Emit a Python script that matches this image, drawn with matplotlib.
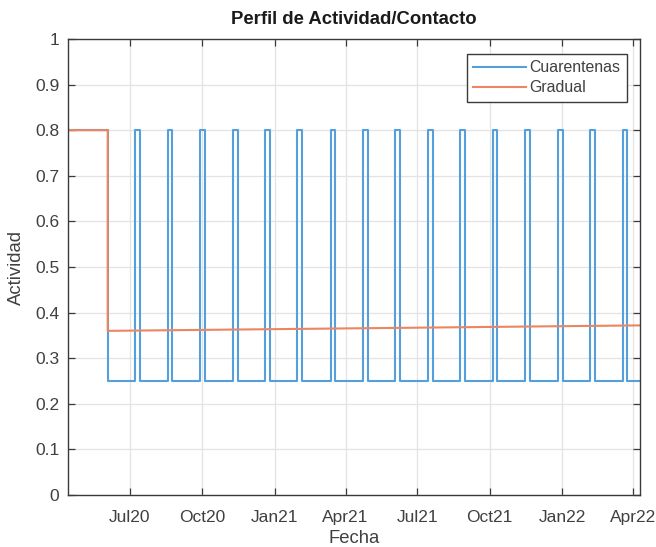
import numpy as np
import matplotlib
matplotlib.use("Agg")
import matplotlib.pyplot as plt
import matplotlib.dates as mdates

plt.rcParams['font.family'] = ['Liberation Sans', 'DejaVu Sans']

# ---- data ----
start_date = "2020-04-13"
end_date = "2022-04-10"
drop_date = "2020-06-03"

pulse_up = ["2020-07-08", "2020-08-18", "2020-09-28", "2020-11-09", "2020-12-20",
            "2021-01-30", "2021-03-13", "2021-04-23", "2021-06-03", "2021-07-15",
            "2021-08-25", "2021-10-05", "2021-11-15", "2021-12-27", "2022-02-06",
            "2022-03-19"]
pulse_down = ["2020-07-14", "2020-08-24", "2020-10-04", "2020-11-15", "2020-12-26",
              "2021-02-05", "2021-03-19", "2021-04-29", "2021-06-09", "2021-07-21",
              "2021-08-31", "2021-10-11", "2021-11-21", "2022-01-02", "2022-02-12",
              "2022-03-25"]

initial_level = 0.8
quarantine_low = 0.25
quarantine_high = 0.8
gradual_start = 0.360
gradual_end = 0.372

# ---- build step series ----
t_blue = [np.datetime64(start_date), np.datetime64(drop_date)]
v_blue = [initial_level, quarantine_low]
for u, d in zip(pulse_up, pulse_down):
    t_blue += [np.datetime64(u), np.datetime64(d)]
    v_blue += [quarantine_high, quarantine_low]
t_blue.append(np.datetime64(end_date))
v_blue.append(quarantine_low)

t_or = [np.datetime64(start_date), np.datetime64(drop_date), np.datetime64(drop_date), np.datetime64(end_date)]
v_or = [initial_level, initial_level, gradual_start, gradual_end]

t_blue = np.array(t_blue, dtype='datetime64[D]')
t_or = np.array(t_or, dtype='datetime64[D]')

# ---- figure ----
fig = plt.figure(figsize=(6.56, 5.47), dpi=100)
ax = fig.add_axes([0.103, 0.095, 0.8726, 0.8337])

blue = '#55a0dc'
orange = '#ea8662'
ax.plot(t_blue, v_blue, drawstyle='steps-post', color=blue, lw=1.5, label='Cuarentenas',
        solid_joinstyle='round')
ax.plot(t_or, v_or, color=orange, lw=1.5, label='Gradual')

ax.set_xlim(np.datetime64(start_date), np.datetime64(end_date))
ax.set_ylim(0, 1)
ax.set_yticks(np.arange(0, 1.01, 0.1))
ax.set_yticklabels(['0', '0.1', '0.2', '0.3', '0.4', '0.5', '0.6', '0.7', '0.8', '0.9', '1'])
ax.xaxis.set_major_locator(mdates.MonthLocator(bymonth=[1, 4, 7, 10]))
ax.xaxis.set_major_formatter(mdates.DateFormatter('%b%y'))

ax.grid(True, color='#e3e3e3', lw=0.9)
ax.set_axisbelow(True)
for s in ax.spines.values():
    s.set_color('#3a3a3a')
    s.set_linewidth(1.0)
ax.tick_params(direction='in', length=5, width=0.9, color='#3a3a3a',
               top=True, right=True, labelsize=12.5, labelcolor='#404040')
ax.tick_params(axis='x', pad=11)
ax.tick_params(axis='y', pad=6)

ax.set_title('Perfil de Actividad/Contacto', fontsize=13.3, fontweight='bold',
             color='#1a1a1a', pad=11)
ax.set_xlabel('Fecha', fontsize=13.3, color='#404040', labelpad=3.5)
ax.set_ylabel('Actividad', fontsize=13.3, color='#404040', labelpad=7)

leg = ax.legend(loc='upper right', bbox_to_anchor=(0.9773, 0.967), fontsize=11.4,
                handlelength=3.3, handletextpad=0.25, borderaxespad=0.0,
                fancybox=False, framealpha=1, borderpad=0.4, labelspacing=0.32)
leg.get_frame().set_edgecolor('#3a3a3a')
leg.get_frame().set_linewidth(1.0)
for t in leg.get_texts():
    t.set_color('#404040')

fig.savefig('out.png', dpi=100)
